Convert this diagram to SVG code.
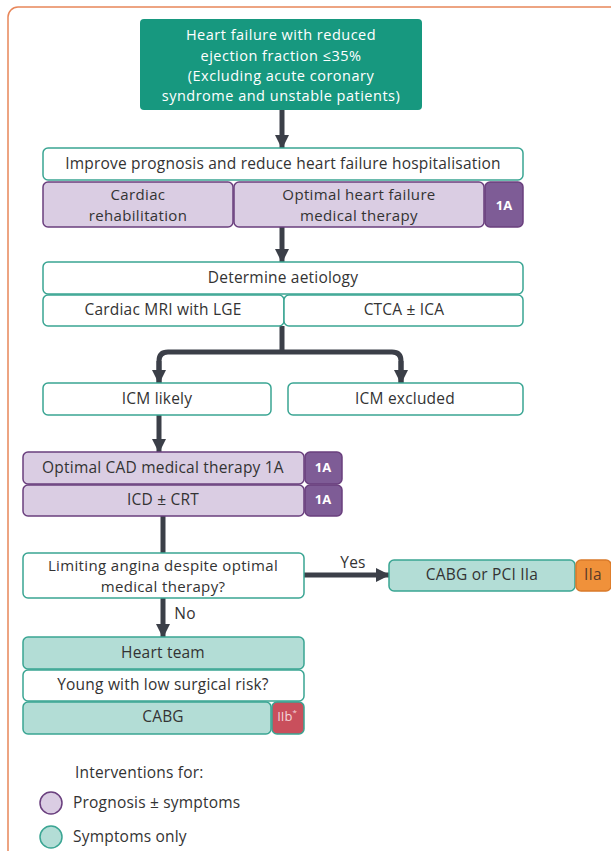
<svg xmlns="http://www.w3.org/2000/svg" width="611" height="851" viewBox="0 0 611 851">
<defs>
<marker id="ah" markerUnits="userSpaceOnUse" markerWidth="16" markerHeight="14" refX="13" refY="7" orient="auto">
<polygon points="0,0 14,7 0,14" fill="#3b3f48"/>
</marker>
<style>
text{font-family:"Open Sans","Liberation Sans",sans-serif;font-size:15.5px;letter-spacing:0.2px;fill:#333;text-anchor:middle;dominant-baseline:central}
.w{fill:#fff;font-size:14.5px;letter-spacing:0.5px}
.m{font-size:15px;letter-spacing:0.35px}
.bw{fill:#fff;stroke:#3aa593;stroke-width:1.5}
.bt{fill:#b3ddd6;stroke:#3aa593;stroke-width:1.5}
.bp{fill:#dacde3;stroke:#6a3f7e;stroke-width:1.5}
.bdg{fill:#7e5c96;stroke:#6a3f7e;stroke-width:1.5}
.c{fill:none;stroke:#3b3f48;stroke-width:5}
.bl{fill:#fff;font-weight:bold;font-size:13px;letter-spacing:0}
.l{text-anchor:start}
</style>
</defs>
<rect x="8" y="7" width="640" height="900" rx="10" fill="#fff" stroke="#e8875a" stroke-width="1.5"/>

<g id="connectors">
<line class="c" x1="282" y1="110" x2="282" y2="148" marker-end="url(#ah)"/>
<line class="c" x1="282" y1="227" x2="282" y2="262" marker-end="url(#ah)"/>
<path class="c" d="M282,326 V352 M159,383 V361 Q159,352 168,352 H392 Q401,352 401,361 V383"/>
<line class="c" x1="159" y1="361" x2="159" y2="383" marker-end="url(#ah)"/>
<line class="c" x1="401" y1="361" x2="401" y2="383" marker-end="url(#ah)"/>
<line class="c" x1="159" y1="415" x2="159" y2="452" marker-end="url(#ah)"/>
<line class="c" x1="163" y1="516" x2="163" y2="553"/>
<line class="c" x1="304" y1="575" x2="389" y2="575" marker-end="url(#ah)"/>
<text x="353" y="562">Yes</text>
<line class="c" x1="163" y1="598" x2="163" y2="637" marker-end="url(#ah)"/>
<text x="185" y="613">No</text>
</g>

<g id="n-hfref">
<rect x="140" y="19" width="282" height="91" rx="4" fill="#17987f"/>
<text class="w" x="281" y="34.5">Heart failure with reduced<tspan x="281" dy="20">ejection fraction ≤35%</tspan><tspan x="281" dy="20">(Excluding acute coronary</tspan><tspan x="281" dy="20">syndrome and unstable patients)</tspan></text>
</g>

<g id="n-improve">
<rect class="bw" x="43" y="148" width="480" height="32" rx="5"/>
<text x="283" y="163">Improve prognosis and reduce heart failure hospitalisation</text>
</g>
<g id="n-rehab">
<rect class="bp" x="43" y="182" width="190" height="45" rx="5"/>
<text class="m" x="138" y="194.2">Cardiac<tspan x="138" dy="20.6">rehabilitation</tspan></text>
</g>
<g id="n-omt">
<rect class="bp" x="234" y="182" width="250" height="45" rx="5"/>
<text class="m" x="359" y="194.2">Optimal heart failure<tspan x="359" dy="20.6">medical therapy</tspan></text>
</g>
<g id="b-omt">
<rect class="bdg" x="485" y="182" width="38" height="45" rx="5"/>
<text class="bl" x="504" y="205">1A</text>
</g>

<g id="n-aetiology">
<rect class="bw" x="43" y="262" width="480" height="32" rx="5"/>
<text x="283" y="277">Determine aetiology</text>
</g>
<g id="n-mri">
<rect class="bw" x="43" y="295" width="241" height="31" rx="5"/>
<text x="163" y="309">Cardiac MRI with LGE</text>
</g>
<g id="n-ctca">
<rect class="bw" x="284" y="295" width="239" height="31" rx="5"/>
<text x="404" y="309">CTCA ± ICA</text>
</g>

<g id="n-icm">
<rect class="bw" x="43" y="383" width="228" height="32" rx="5"/>
<text x="157" y="398">ICM likely</text>
</g>
<g id="n-icmx">
<rect class="bw" x="288" y="383" width="235" height="32" rx="5"/>
<text x="405" y="398">ICM excluded</text>
</g>

<g id="n-cad">
<rect class="bp" x="23" y="452" width="281" height="32" rx="5"/>
<text x="163" y="467">Optimal CAD medical therapy 1A</text>
</g>
<g id="b-cad">
<rect class="bdg" x="305" y="452" width="37" height="32" rx="5"/>
<text class="bl" x="323" y="467">1A</text>
</g>
<g id="n-icd">
<rect class="bp" x="23" y="485" width="281" height="31" rx="5"/>
<text x="163" y="499">ICD ± CRT</text>
</g>
<g id="b-icd">
<rect class="bdg" x="305" y="485" width="37" height="31" rx="5"/>
<text class="bl" x="323" y="499">1A</text>
</g>

<g id="n-angina">
<rect class="bw" x="23" y="553" width="281" height="45" rx="5"/>
<text class="m" x="163" y="565">Limiting angina despite optimal<tspan x="163" dy="20.6">medical therapy?</tspan></text>
</g>

<g id="n-cabgpci">
<rect class="bt" x="389" y="560" width="186" height="31" rx="5"/>
<text x="482" y="574">CABG or PCI IIa</text>
</g>
<g id="b-cabgpci">
<rect x="576" y="560" width="35" height="31" rx="5" fill="#f0913a" stroke="#d97a2a" stroke-width="1.5"/>
<text x="593" y="574" style="fill:#5a3a28">IIa</text>
</g>

<g id="n-team">
<rect class="bt" x="23" y="637" width="281" height="32" rx="5"/>
<text x="163" y="652">Heart team</text>
</g>
<g id="n-young">
<rect class="bw" x="23" y="670" width="281" height="31" rx="5"/>
<text x="163" y="684">Young with low surgical risk?</text>
</g>
<g id="n-cabg">
<rect class="bt" x="23" y="702" width="248" height="32" rx="5"/>
<text x="163" y="716">CABG</text>
</g>
<g id="b-cabg">
<rect x="272" y="702" width="32" height="32" rx="5" fill="#c94f5c" stroke="#3aa593" stroke-width="1.5"/>
<text x="287" y="716" style="font-size:13px;letter-spacing:0;fill:#f3d6da">IIb<tspan dy="-5" style="font-size:8px">*</tspan></text>
</g>

<g id="legend">
<text class="l" x="75" y="772">Interventions for:</text>
<circle cx="51" cy="803" r="11" fill="#dacde3" stroke="#6a3f7e" stroke-width="1.5"/>
<text class="l" x="73" y="802">Prognosis ± symptoms</text>
<circle cx="51" cy="837" r="11" fill="#b3ddd6" stroke="#3aa593" stroke-width="1.5"/>
<text class="l" x="73" y="836">Symptoms only</text>
</g>
</svg>
